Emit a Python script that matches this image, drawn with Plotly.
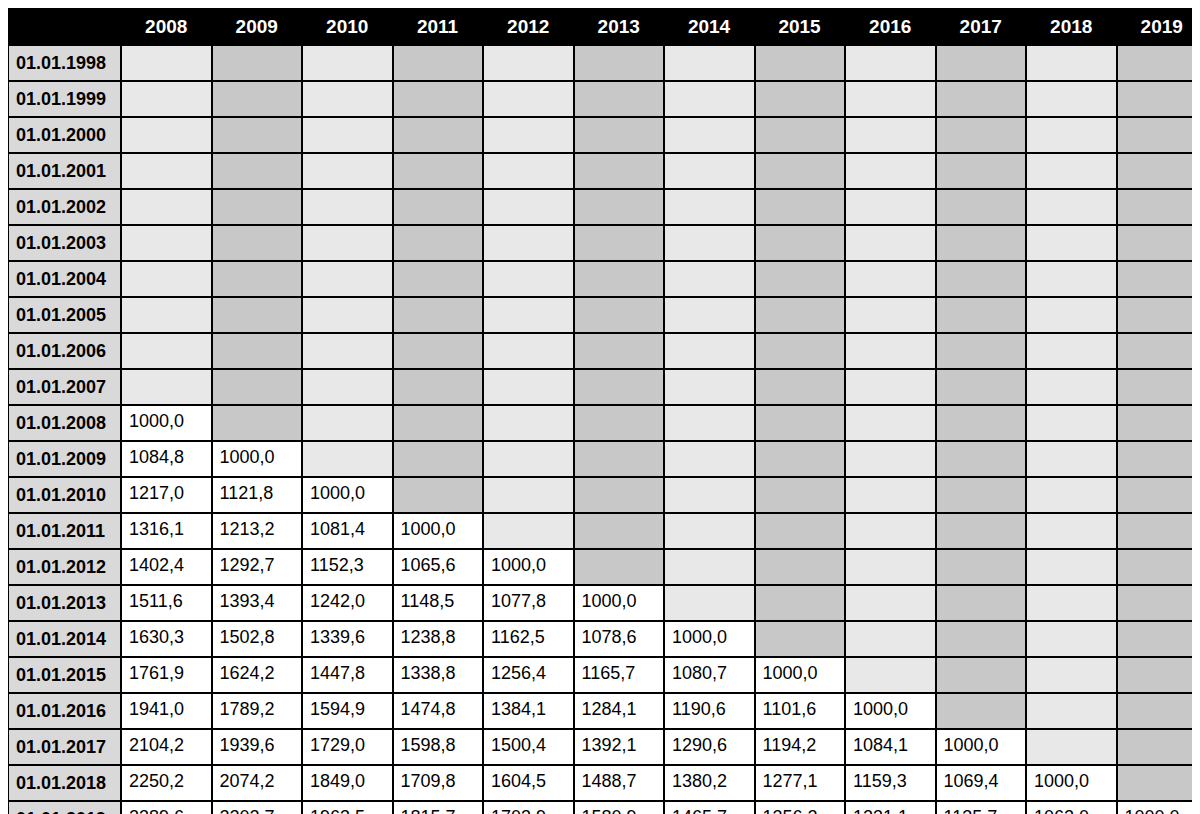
import plotly.graph_objects as go

years = ["2008", "2009", "2010", "2011", "2012", "2013", "2014", "2015", "2016", "2017", "2018", "2019"]
dates = ["01.01.%d" % y for y in range(1998, 2020)] + ["20.09.2019"]

# value rows (starting from 01.01.2008); each row lists values for 2008.. onwards
rows_values = [
    [1000.0],
    [1084.8, 1000.0],
    [1217.0, 1121.8, 1000.0],
    [1316.1, 1213.2, 1081.4, 1000.0],
    [1402.4, 1292.7, 1152.3, 1065.6, 1000.0],
    [1511.6, 1393.4, 1242.0, 1148.5, 1077.8, 1000.0],
    [1630.3, 1502.8, 1339.6, 1238.8, 1162.5, 1078.6, 1000.0],
    [1761.9, 1624.2, 1447.8, 1338.8, 1256.4, 1165.7, 1080.7, 1000.0],
    [1941.0, 1789.2, 1594.9, 1474.8, 1384.1, 1284.1, 1190.6, 1101.6, 1000.0],
    [2104.2, 1939.6, 1729.0, 1598.8, 1500.4, 1392.1, 1290.6, 1194.2, 1084.1, 1000.0],
    [2250.2, 2074.2, 1849.0, 1709.8, 1604.5, 1488.7, 1380.2, 1277.1, 1159.3, 1069.4, 1000.0],
    [2389.6, 2202.7, 1963.5, 1815.7, 1703.9, 1580.9, 1465.7, 1356.2, 1231.1, 1135.7, 1062.0, 1000.0],
    [2485.7, 2291.3, 2042.5, 1888.7, 1772.4, 1644.4, 1524.6, 1410.8, 1280.6, 1181.3, 1104.6, 1040.2],
]

n_empty = len(dates) - len(rows_values)
grid = [[None] * len(years) for _ in range(n_empty)]
for r in rows_values:
    grid.append(r + [None] * (len(years) - len(r)))

LIGHT, DARK = "#e8e8e8", "#c8c8c8"
columns = [["<b>%s</b>" % d for d in dates]]
fills = [["#d9d9d9"] * len(dates)]
for j in range(len(years)):
    col, fc = [], []
    for i in range(len(dates)):
        v = grid[i][j]
        if v is None:
            col.append("")
            fc.append(LIGHT if j % 2 == 0 else DARK)
        else:
            col.append(("%.1f" % v).replace(".", ","))
            fc.append("white")
    columns.append(col)
    fills.append(fc)

fig = go.Figure(go.Table(
    columnwidth=[113] + [90.5] * len(years),
    header=dict(values=[""] + ["<b>%s</b>" % y for y in years],
                fill_color="black", line_color="black",
                font=dict(color="white", size=19, family="Liberation Sans"),
                align="center", height=36),
    cells=dict(values=columns, fill_color=fills, line=dict(color="black", width=2),
               font=dict(color="black", size=18, family="Liberation Sans"),
               align="left", height=33),
))
fig.update_layout(width=1200, height=814, margin=dict(l=0, r=1, t=0, b=0),
                  paper_bgcolor="white")
fig.write_html("out.html")
